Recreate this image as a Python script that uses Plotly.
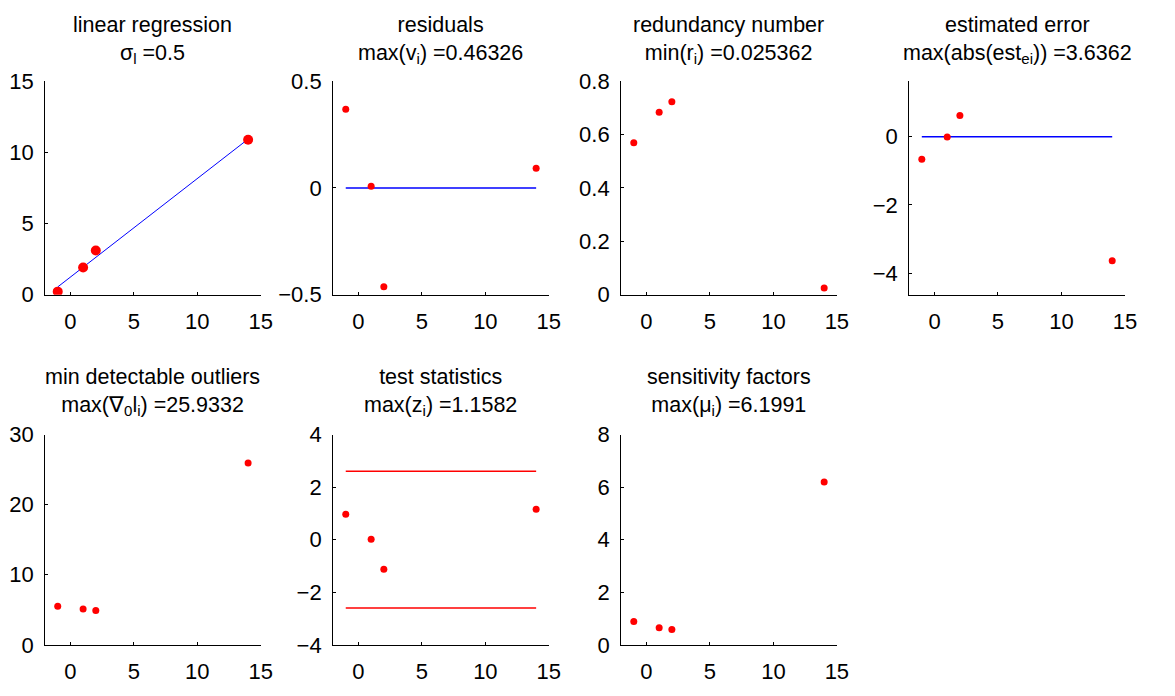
import plotly.graph_objects as go

# ---- data ----
x_obs = [-1, 1, 2, 14]
observations = [0.22, 1.91, 3.11, 10.89]
fit_x = [-1, 14]
fit_y = [0.55, 10.93]
residuals = [0.368, 0.008, -0.463, 0.092]
redundancy = [0.569, 0.683, 0.723, 0.025]
est_error = [-0.66, -0.01, 0.62, -3.636]
mdb = [5.5, 5.13, 4.9, 25.93]
test_stat = [0.97, 0.02, -1.12, 1.158]
crit = 2.6
sensitivity = [0.89, 0.65, 0.59, 6.199]
zero_line = [0, 0]

titles = [
    ("linear regression", "σ<sub>l</sub> =0.5"),
    ("residuals", "max(v<sub>i</sub>) =0.46326"),
    ("redundancy number", "min(r<sub>i</sub>) =0.025362"),
    ("estimated error", "max(abs(est<sub>ei</sub>)) =3.6362"),
    ("min detectable outliers", "max(∇<sub>0</sub>l<sub>i</sub>) =25.9332"),
    ("test statistics", "max(z<sub>i</sub>) =1.1582"),
    ("sensitivity factors", "max(μ<sub>i</sub>) =6.1991"),
]
y_ranges = [[0, 15], [-0.5, 0.5], [0, 0.8], [-4.636, 1.63],
            [0, 30], [-4, 4], [0, 8]]
y_dticks = [5, 0.5, 0.2, 2, 10, 2, 2]

# ---- layout geometry (pixels) ----
W, H = 1175, 696
col_left = [45.5, 336.5, 627.5, 918.5]
ax_w = 218
rows = [(71.7, 293.3), (438.3, 656.5)]

FONT = "Liberation Sans, Arial, sans-serif"
FS = 22
TFS = 21.5

fig = go.Figure()
RED = "rgb(255,0,0)"
BLUE = "rgb(0,0,255)"

def add(i, **kw):
    ax = "" if i == 0 else str(i + 1)
    fig.add_trace(go.Scatter(xaxis="x" + ax, yaxis="y" + ax, showlegend=False,
                             hoverinfo="skip", **kw))

# plot 1
add(0, x=fit_x, y=fit_y, mode="lines", line=dict(color=BLUE, width=1))
add(0, x=x_obs, y=observations, mode="markers", marker=dict(color=RED, size=10))
# plot 2
add(1, x=fit_x, y=zero_line, mode="lines", line=dict(color=BLUE, width=1.5))
add(1, x=x_obs, y=residuals, mode="markers", marker=dict(color=RED, size=7))
# plot 3
add(2, x=x_obs, y=redundancy, mode="markers", marker=dict(color=RED, size=7))
# plot 4
add(3, x=fit_x, y=zero_line, mode="lines", line=dict(color=BLUE, width=1.5))
add(3, x=x_obs, y=est_error, mode="markers", marker=dict(color=RED, size=7))
# plot 5
add(4, x=x_obs, y=mdb, mode="markers", marker=dict(color=RED, size=7))
# plot 6
add(5, x=fit_x, y=[crit, crit], mode="lines", line=dict(color=RED, width=1.5))
add(5, x=fit_x, y=[-crit, -crit], mode="lines", line=dict(color=RED, width=1.5))
add(5, x=x_obs, y=test_stat, mode="markers", marker=dict(color=RED, size=7))
# plot 7
add(6, x=x_obs, y=sensitivity, mode="markers", marker=dict(color=RED, size=7))

layout = dict(
    width=W, height=H, margin=dict(l=0, r=0, t=0, b=0), autosize=False,
    paper_bgcolor="white", plot_bgcolor="white",
    font=dict(family=FONT, size=FS, color="black"),
    showlegend=False,
)

annotations = []
for i in range(7):
    r, c = divmod(i, 4)
    left = col_left[c]
    top, bottom = rows[r]
    ax = "" if i == 0 else str(i + 1)
    common = dict(showline=True, linecolor="black", linewidth=1, ticks="inside",
                  ticklen=3, tickcolor="black", tickwidth=1, showgrid=False,
                  zeroline=False, mirror=False,
                  tickfont=dict(family=FONT, size=FS, color="black"))
    layout["xaxis" + ax] = dict(
        domain=[left / W, (left + ax_w) / W], range=[-2, 15], tick0=0, dtick=5,
        anchor="y" + ax, ticklabelstandoff=7, **common)
    layout["yaxis" + ax] = dict(
        domain=[1 - bottom / H, 1 - top / H], range=y_ranges[i], dtick=y_dticks[i],
        tick0=0, anchor="x" + ax, ticklabelstandoff=6, **common)
    cx = (left + ax_w / 2) / W
    baseline = 19.5 if r == 0 else 385
    topp = baseline - 0.905 * TFS - 1
    annotations.append(dict(
        text="<br>".join(titles[i]), x=cx, y=1 - topp / H, xref="paper", yref="paper",
        xanchor="center", yanchor="top", showarrow=False, align="center",
        font=dict(family=FONT, size=TFS, color="black")))
layout["annotations"] = annotations
fig.update_layout(**layout)
fig.write_html("out.html", config={"responsive": False, "displayModeBar": False})
